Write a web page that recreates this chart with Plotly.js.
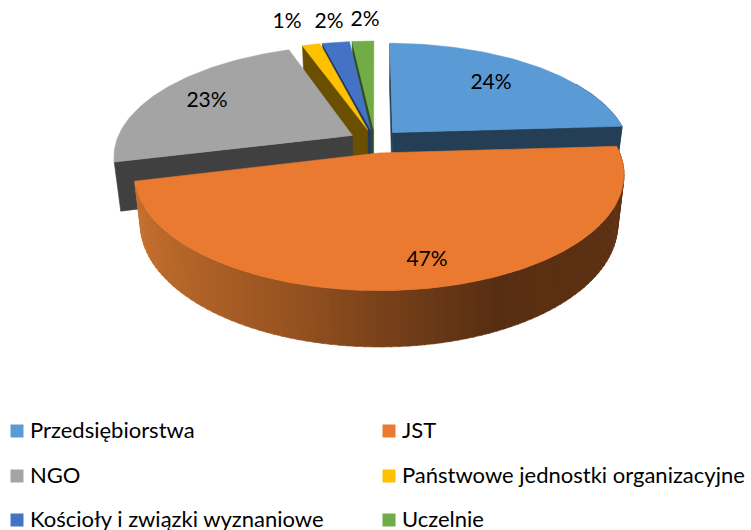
<!DOCTYPE html>
<html><head><meta charset="utf-8">
<script src="https://cdn.plot.ly/plotly-3.0.1.min.js"></script>
<style>html,body{margin:0;padding:0;background:#fff}#c{width:751px;height:530px}</style>
</head><body><div id="c"></div>
<script>
const categories = ['Przedsiębiorstwa','JST','NGO','Państwowe jednostki organizacyjne','Kościoły i związki wyznaniowe','Uczelnie'];
const shares = [24, 47, 23.4, 1.45, 2.2, 1.75];
const topColors = ['#5A9AD5','#EA7A2F','#A4A4A4','#FFC000','#4472C4','#70AD47'];
const wallColors = ['#243E55','#8a4a1c','#404040','#6A4F00','#1F3864','#2F4F1F'];
const labelX = [491, 427, 207, 287, 329, 365];
const labelY = [84, 261, 102, 23, 23, 21];
const legendX = [17, 389, 17, 389, 17, 389];
const legendTextX = [30, 402, 30, 402, 30, 402];
const legendTextY = [432, 432, 477, 477, 521, 521];
const legendY = [431, 431, 476, 476, 520, 520];
const wallStops = [[-1,[200,113,46]],[-0.3,[150,82,32]],[0.1,[112,60,24]],[0.4,[88,46,18]],[1,[94,49,19]]];

// Projection of the tilted pie plane onto the page
const CX = 375, CY = 141, RX = 236, RY = 108, PERSP = 0.18, DEPTH = 48, EXPLODE = 0.11, NARROW = 0.025;
function project(X, Y, Z) {
  const s = 1 / (1 + PERSP * Y);
  return [CX + RX * X * s * (1 - NARROW * Z), CY - RY * Y * s + DEPTH * Z * (1 + (s - 1) * 0.7)];
}
const total = shares.reduce((a, b) => a + b, 0);
const rad = p => p / total * 2 * Math.PI;
const slices = [];
let cum = 0;
shares.forEach((v, i) => {
  const a0 = rad(cum), a1 = rad(cum + v), m = (a0 + a1) / 2;
  slices.push({i, a0, a1, ox: EXPLODE * Math.sin(m), oy: EXPLODE * Math.cos(m)});
  cum += v;
});
const rim = (sl, a, Z) => project(sl.ox + Math.sin(a), sl.oy + Math.cos(a), Z);
function arc(sl, a0, a1, Z) {
  const n = Math.max(2, Math.ceil(Math.abs(a1 - a0) / 0.02)), pts = [];
  for (let k = 0; k <= n; k++) pts.push(rim(sl, a0 + (a1 - a0) * k / n, Z));
  return pts;
}
function poly(pts, color, name) {
  const c = pts.concat([pts[0]]);
  return {type:'scatter', mode:'lines', x:c.map(p=>p[0]), y:c.map(p=>p[1]), fill:'toself', fillcolor:color,
    line:{color:color, width:0.6}, showlegend:false, hoverinfo:'skip', name:name};
}
function wallShade(t) {
  for (let k = 0; k < wallStops.length - 1; k++) {
    const [p, c] = wallStops[k], [q, d] = wallStops[k + 1];
    if (t <= q) { const f = Math.max(0, (t - p) / (q - p)); return 'rgb(' + c.map((v, j) => Math.round(v + (d[j] - v) * f)).join(',') + ')'; }
  }
  return 'rgb(94,49,19)';
}
const traces = [];
function radialWall(sl, a, color) {
  const ap0 = project(sl.ox, sl.oy, 0), ap1 = project(sl.ox, sl.oy, 1);
  traces.push(poly([ap0, rim(sl, a, 0), rim(sl, a, 1), ap1], color, categories[sl.i]));
}
function topFace(sl) {
  traces.push(poly([project(sl.ox, sl.oy, 0)].concat(arc(sl, sl.a0, sl.a1, 0)), topColors[sl.i], categories[sl.i]));
}
// painter's order, back to front
[5, 4, 3].forEach(i => { const s = slices[i]; radialWall(s, s.a0, wallColors[i]); topFace(s); });
{ const s = slices[2]; radialWall(s, s.a0, wallColors[2]); topFace(s); }
{ const s = slices[0]; radialWall(s, s.a0, wallColors[0]); radialWall(s, s.a1, wallColors[0]);
  traces.push(poly(arc(s, Math.PI/3, s.a1, 0).concat(arc(s, s.a1, Math.PI/3, 1)), wallColors[0], categories[0])); topFace(s); }
{ const s = slices[1], step = 0.03;
  for (let a = s.a0; a < s.a1; a += step) {
    const b = Math.min(a + step + 0.004, s.a1);
    traces.push(poly(arc(s, a, b, 0).concat(arc(s, b, a, 1)), wallShade(Math.sin((a + b) / 2)), categories[1]));
  }
  topFace(s); }
// percentage labels
traces.push({type:'scatter', mode:'text', x:labelX, y:labelY, text:shares.map(v => Math.round(v) + '%'),
  textposition:'middle center', textfont:{family:'Lato, Carlito, sans-serif', size:21, color:'#000'},
  showlegend:false, hoverinfo:'skip', cliponaxis:false, name:'labels'});
// legend entries
categories.forEach((c, i) => {
  traces.push({type:'scatter', mode:'markers', x:[legendX[i]], y:[legendY[i]], name:c,
    marker:{symbol:'square', size:13, color:topColors[i]}, showlegend:false, hoverinfo:'skip', cliponaxis:false});
  traces.push({type:'scatter', mode:'text', x:[legendTextX[i]], y:[legendTextY[i]], text:[c], name:c,
    textposition:'middle right', textfont:{family:'Lato, Carlito, sans-serif', size:22, color:'#000'},
    showlegend:false, hoverinfo:'skip', cliponaxis:false});
});

Plotly.newPlot('c', traces, {
  width:751, height:530, margin:{l:0,r:0,t:0,b:0}, paper_bgcolor:'#fff', plot_bgcolor:'#fff', showlegend:false,
  xaxis:{range:[0,751], visible:false, fixedrange:true},
  yaxis:{range:[530,0], visible:false, fixedrange:true}
}, {displayModeBar:false, staticPlot:true});
</script></body></html>
